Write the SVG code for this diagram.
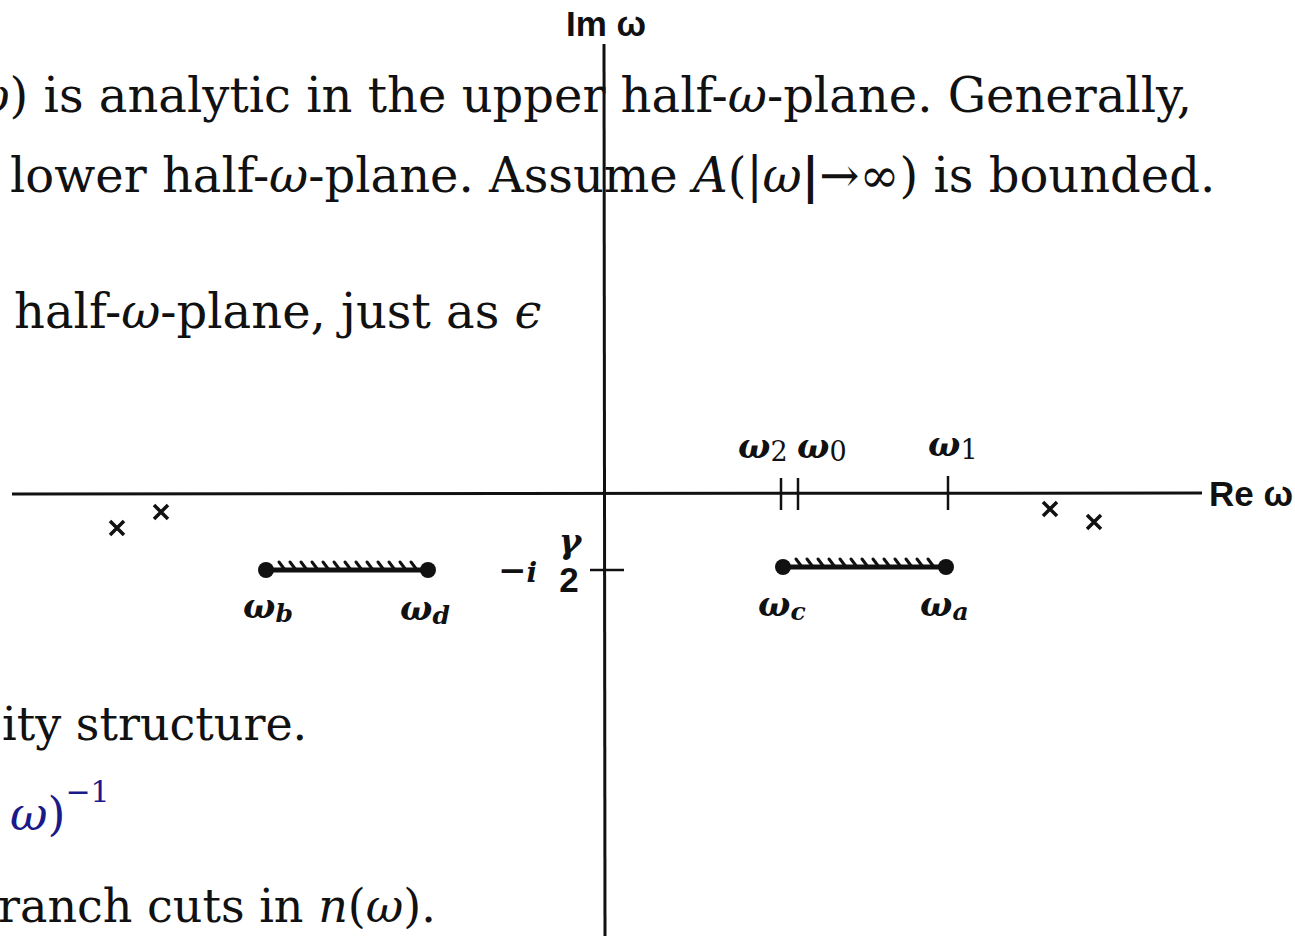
<svg xmlns="http://www.w3.org/2000/svg" width="1295" height="936" viewBox="0 0 1295 936">
<style>
.body{font-family:"DejaVu Serif","Liberation Serif",serif;font-size:48px;fill:#111}
.body2{font-family:"DejaVu Serif","Liberation Serif",serif;font-size:46px;fill:#111}
.it{font-style:italic}
.lab{font-family:"Liberation Sans","DejaVu Sans",sans-serif;font-weight:bold;font-size:35px;fill:#111}
.om{font-family:"DejaVu Serif","Liberation Serif",serif;font-weight:bold;font-style:italic;font-size:34px;fill:#111}
.sub{font-family:"DejaVu Serif","Liberation Serif",serif;font-size:27px;font-style:normal;font-weight:normal;fill:#111}
.subi{font-size:25px}
.ax{stroke:#111;stroke-width:3;fill:none}
.tk{stroke:#111;stroke-width:2.5;fill:none}
.cut{stroke:#111;stroke-width:5;fill:none}
.hatch{stroke:#111;stroke-width:3;fill:none;stroke-linecap:round}
.x{stroke:#111;stroke-width:3.5;fill:none}
</style>
<rect width="1295" height="936" fill="#fff"/>
<g id="text">
<text class="body" x="1192" y="112" text-anchor="end"><tspan class="it">ω</tspan>) is analytic in the upper half-<tspan class="it">ω</tspan>-plane. Generally,</text>
<text class="body" x="10" y="192">lower half-<tspan class="it">ω</tspan>-plane. Assume <tspan class="it">A</tspan>(|<tspan class="it">ω</tspan><tspan font-weight="bold">|</tspan>→∞) is bounded.</text>
<text class="body" x="14" y="328">half-<tspan class="it">ω</tspan>-plane, just as <tspan class="it">ϵ</tspan></text>
<text class="body2" x="2" y="740">ity structure.</text>
<text class="body2" x="10" y="830" style="fill:#1a1a8a"><tspan class="it">ω</tspan>)<tspan font-size="30" dy="-28">−1</tspan></text>
<text class="body2" x="-2" y="922">ranch cuts in <tspan class="it">n</tspan>(<tspan class="it">ω</tspan>).</text>
</g>
<g id="axes">
<line class="ax" x1="604" y1="44" x2="605" y2="936"/>
<line class="ax" x1="12" y1="494" x2="1202" y2="493"/>
<text class="lab" x="566" y="36">Im ω</text>
<text class="lab" x="1209" y="506">Re ω</text>
</g>
<g id="ticks">
<line class="tk" x1="781" y1="478" x2="781" y2="510"/>
<line class="tk" x1="798" y1="478" x2="798" y2="510"/>
<line class="tk" x1="948" y1="476" x2="948" y2="510"/>
<line class="tk" x1="590" y1="570" x2="624" y2="570"/>
<text class="om" x="738" y="458">ω<tspan class="sub" dy="3">2</tspan></text>
<text class="om" x="797" y="458">ω<tspan class="sub" dy="3">0</tspan></text>
<text class="om" x="928" y="456">ω<tspan class="sub" dy="3">1</tspan></text>
<text class="om" x="498" y="582">−<tspan font-size="28">i</tspan></text>
<text class="om" x="570" y="553" text-anchor="middle" font-size="22">γ</text>
<text class="lab" x="569" y="592" text-anchor="middle" font-size="24">2</text>
</g>
<g id="poles">
<path class="x" d="M110 521 l14 14 M124 521 l-14 14"/>
<path class="x" d="M154 505 l14 14 M168 505 l-14 14"/>
<path class="x" d="M1043 502 l14 14 M1057 502 l-14 14"/>
<path class="x" d="M1087 515 l14 14 M1101 515 l-14 14"/>
</g>
<g id="cut-left">
<line class="cut" x1="266" y1="570" x2="428" y2="570"/>
<circle cx="266" cy="570" r="8" fill="#111"/>
<circle cx="428" cy="570" r="8" fill="#111"/>
<path class="hatch" d="M279 562 l6 8 M290 562 l6 8 M301 562 l6 8 M312 562 l6 8 M323 562 l6 8 M334 562 l6 8 M345 562 l6 8 M356 562 l6 8 M367 562 l6 8 M378 562 l6 8 M389 562 l6 8 M400 562 l6 8 M411 562 l6 8"/>
<text class="om" x="243" y="618">ω<tspan class="subi" dy="4">b</tspan></text>
<text class="om" x="400" y="620">ω<tspan class="subi" dy="4">d</tspan></text>
</g>
<g id="cut-right">
<line class="cut" x1="783" y1="567" x2="946" y2="567"/>
<circle cx="783" cy="567" r="8" fill="#111"/>
<circle cx="946" cy="567" r="8" fill="#111"/>
<path class="hatch" d="M796 559 l6 8 M807 559 l6 8 M818 559 l6 8 M829 559 l6 8 M840 559 l6 8 M851 559 l6 8 M862 559 l6 8 M873 559 l6 8 M884 559 l6 8 M895 559 l6 8 M906 559 l6 8 M917 559 l6 8 M928 559 l6 8"/>
<text class="om" x="758" y="616">ω<tspan class="subi" dy="4">c</tspan></text>
<text class="om" x="920" y="616">ω<tspan class="subi" dy="4">a</tspan></text>
</g>
</svg>
